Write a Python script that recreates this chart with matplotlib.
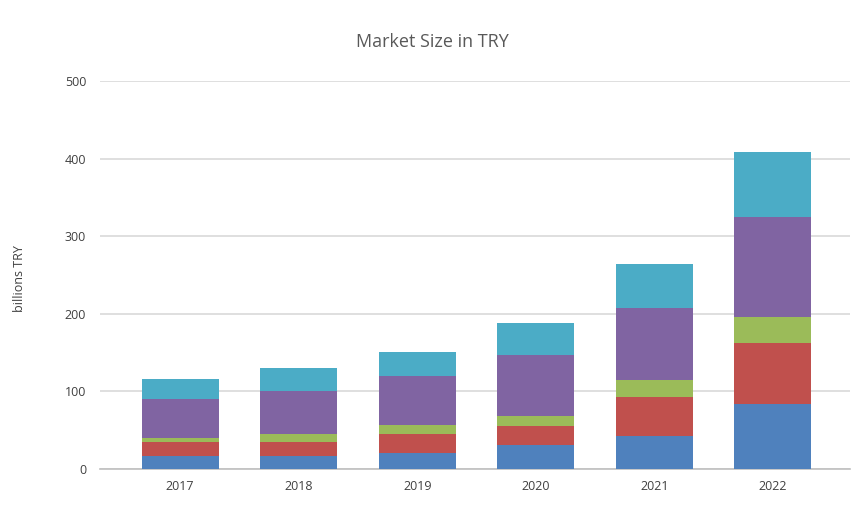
import matplotlib
matplotlib.use("Agg")
import matplotlib.pyplot as plt
import numpy as np

years = ["2017", "2018", "2019", "2020", "2021", "2022"]
seg1 = [17, 17, 21, 31, 43, 84]
seg2 = [18, 18, 24, 24, 50, 78]
seg3 = [5, 10, 12, 13, 22, 34]
seg4 = [50, 56, 63, 79, 92, 129]
seg5 = [26, 29, 31, 41, 57, 84]
colors = ["#4F81BD", "#C0504D", "#9BBB59", "#8064A2", "#4BACC6"]
series = [seg1, seg2, seg3, seg4, seg5]

plt.rcParams['font.family'] = ['Open Sans', 'DejaVu Sans']
fig = plt.figure(figsize=(8.64, 5.08), dpi=100)
ax = fig.add_axes([100/864, 1-469/508, 750/864, (469-81)/508])

x = np.arange(len(years))
bottom = np.zeros(len(years))
for vals, c in zip(series, colors):
    ax.bar(x, vals, bottom=bottom, width=0.65, color=c, zorder=3)
    bottom += np.array(vals)

ax.set_xlim(-0.675, 5.65)
ax.set_ylim(0, 500)
ax.set_yticks([0, 100, 200, 300, 400, 500])
ax.set_xticks(x)
ax.set_xticklabels(years)
ax.grid(axis='y', color='#D9D9D9', linewidth=1.2, zorder=0)
for s in ['top', 'right', 'left']:
    ax.spines[s].set_visible(False)
ax.spines['bottom'].set_color('#BFBFBF')
ax.spines['bottom'].set_linewidth(1.2)
ax.tick_params(axis='both', length=0, labelsize=9, colors='#404040')
ax.tick_params(axis='y', pad=10)
ax.tick_params(axis='x', pad=8)
ax.set_ylabel("billions TRY", fontsize=9, color='#404040')
ax.yaxis.set_label_coords(-0.099, 0.49)
fig.text(432/864, 1-42/508, "Market Size in TRY", ha='center', va='center', fontsize=13, color='#595959')

fig.savefig("out.png", dpi=100)
